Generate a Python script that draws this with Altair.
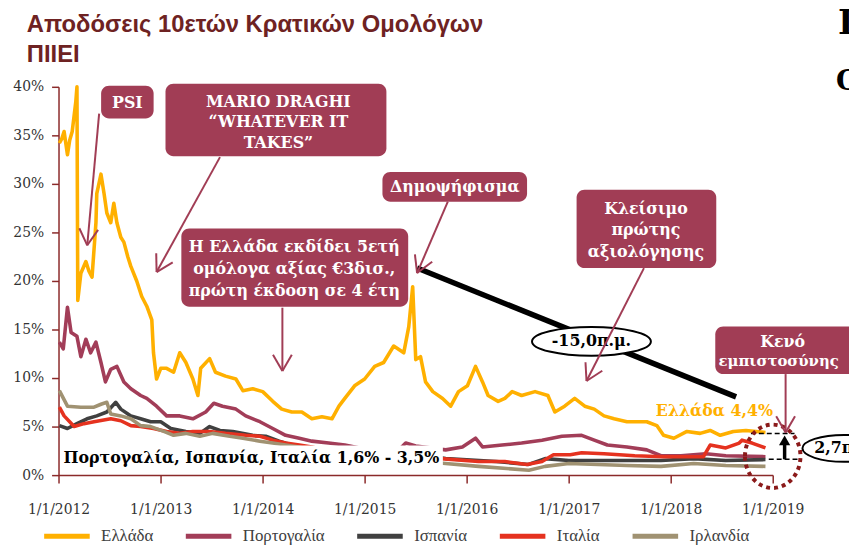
import math
import altair as alt
import pandas as pd

# ------------------------------------------------------------------ data
countries = ["Ελλάδα", "Πορτογαλία", "Ισπανία", "Ιταλία", "Ιρλανδία"]
colors = ["#FFB000", "#A23D58", "#404040", "#E5321F", "#A09272"]

greece_dates = ["2012-01-04", "2012-01-12", "2012-01-21", "2012-02-02", "2012-02-10", "2012-02-19", "2012-03-03",
                "2012-03-07", "2012-03-10", "2012-03-21", "2012-04-08", "2012-04-19", "2012-04-30", "2012-05-14",
                "2012-05-17", "2012-06-01", "2012-06-12", "2012-06-22", "2012-07-06", "2012-07-17", "2012-07-28",
                "2012-08-11", "2012-08-22", "2012-09-05", "2012-09-16", "2012-10-07", "2012-10-25", "2012-11-12",
                "2012-11-30", "2012-12-06", "2012-12-17", "2013-01-01", "2013-01-22", "2013-02-16", "2013-03-10",
                "2013-04-01", "2013-04-26", "2013-05-14", "2013-05-24", "2013-06-25", "2013-07-16", "2013-08-21",
                "2013-09-27", "2013-10-22", "2013-11-26", "2014-01-01", "2014-02-06", "2014-03-10", "2014-04-15",
                "2014-05-21", "2014-06-26", "2014-08-01", "2014-09-06", "2014-10-01", "2014-10-22", "2014-11-26",
                "2015-01-01", "2015-02-06", "2015-03-10", "2015-04-15", "2015-05-21", "2015-06-08", "2015-06-22",
                "2015-07-03", "2015-07-20", "2015-08-07", "2015-09-02", "2015-10-07", "2015-11-05", "2015-12-03",
                "2016-01-04", "2016-02-02", "2016-02-27", "2016-03-18", "2016-04-23", "2016-05-17", "2016-06-12",
                "2016-07-16", "2016-09-02", "2016-10-18", "2016-11-12", "2016-12-17", "2017-01-22", "2017-02-27",
                "2017-04-02", "2017-05-07", "2017-06-12", "2017-07-28", "2017-10-07", "2017-11-12", "2017-12-06",
                "2018-01-12", "2018-02-28", "2018-04-16", "2018-05-22", "2018-06-27", "2018-08-13", "2018-09-27",
                "2018-12-06"]
greece_vals = [34.2, 34.6, 35.4, 33.0, 34.5, 35.4, 38.5,
               40.0, 18.0, 20.8, 22.0, 21.0, 20.4, 26.0,
               29.0, 31.0, 29.0, 27.0, 26.0, 28.0, 26.0,
               24.5, 24.0, 22.5, 21.5, 20.0, 18.4, 17.4,
               16.0, 12.6, 9.9, 11.0, 11.0, 10.6, 12.6,
               11.6, 9.9, 8.2, 11.0, 12.0, 10.6, 10.2,
               9.9, 8.7, 8.9, 8.6, 7.6, 6.8, 6.5,
               6.5, 5.8, 6.0, 5.8, 7.1, 7.9, 9.2,
               9.9, 11.2, 11.6, 13.3, 12.6, 15.3, 19.4,
               11.9, 12.2, 9.6, 8.6, 7.9, 7.1, 8.6,
               9.2, 11.2, 9.6, 8.2, 7.6, 7.9, 8.6,
               8.2, 8.6, 8.2, 6.5, 7.1, 7.9, 7.1,
               6.8, 6.1, 5.8, 5.5, 5.5, 5.1, 4.1,
               3.8, 4.5, 4.3, 4.6, 4.1, 4.5, 4.6,
               4.4]

portugal_dates = ["2012-01-04", "2012-01-18", "2012-02-02", "2012-02-15", "2012-03-07", "2012-03-21", "2012-04-08",
                  "2012-04-25", "2012-05-14", "2012-06-01", "2012-06-17", "2012-07-06", "2012-07-28", "2012-08-22",
                  "2012-09-16", "2012-10-21", "2012-11-12", "2012-12-17", "2013-01-22", "2013-03-10", "2013-04-26",
                  "2013-06-11", "2013-07-10", "2013-08-10", "2013-09-27", "2013-11-01", "2013-12-22", "2014-02-06",
                  "2014-03-24", "2014-05-12", "2014-06-26", "2014-08-25", "2014-10-22", "2015-01-01", "2015-02-26",
                  "2015-04-20", "2015-05-28", "2015-07-03", "2015-10-18", "2015-12-17", "2016-02-02", "2016-02-27",
                  "2016-05-07", "2016-07-16", "2016-09-27", "2016-12-07", "2017-02-16", "2017-04-02", "2017-05-19",
                  "2017-07-28", "2017-10-07", "2017-11-27", "2018-02-06", "2018-05-07", "2018-07-17", "2018-12-06"]
portugal_vals = [13.7, 13.0, 17.3, 14.7, 14.3, 12.2, 14.0,
                 12.6, 13.7, 11.6, 9.6, 10.9, 11.2, 9.6,
                 8.9, 8.2, 7.9, 7.1, 6.1, 6.1, 5.8,
                 6.5, 7.4, 7.1, 6.8, 6.1, 5.5, 4.8,
                 4.1, 3.8, 3.5, 3.3, 3.1, 2.7, 2.0,
                 2.2, 3.3, 3.0, 2.6, 2.9, 3.8, 2.9,
                 3.1, 3.3, 3.6, 4.0, 4.1, 3.6, 3.1,
                 2.9, 2.6, 2.0, 2.0, 2.2, 2.0, 1.9]

spain_dates = ["2012-01-04", "2012-02-02", "2012-03-07", "2012-04-12", "2012-05-17", "2012-06-22", "2012-07-24",
               "2012-08-11", "2012-09-16", "2012-10-21", "2012-11-26", "2013-01-01", "2013-02-06", "2013-04-01",
               "2013-05-21", "2013-06-25", "2013-08-01", "2013-09-16", "2013-11-26", "2014-01-12", "2014-03-01",
               "2014-04-15", "2014-06-01", "2014-08-20", "2014-11-18", "2015-02-15", "2015-05-12", "2015-07-20",
               "2015-10-18", "2016-04-16", "2016-08-10", "2016-10-08", "2017-01-01", "2017-07-28", "2017-11-27",
               "2018-03-24", "2018-07-17", "2018-12-06"]
spain_vals = [5.1, 4.8, 5.3, 5.8, 6.1, 6.5, 7.5,
              6.8, 6.1, 5.8, 5.5, 5.5, 4.8, 4.5,
              4.3, 5.0, 4.6, 4.5, 4.1, 4.0, 3.5,
              3.1, 2.9, 2.4, 2.0, 1.6, 1.9, 2.1,
              1.7, 1.4, 1.1, 1.7, 1.5, 1.5, 1.5,
              1.7, 1.5, 1.6]

italy_dates = ["2012-01-04", "2012-01-21", "2012-02-26", "2012-04-01", "2012-05-07", "2012-07-06", "2012-08-11",
               "2012-09-16", "2012-10-21", "2012-12-06", "2013-01-22", "2013-03-10", "2013-04-26", "2013-06-25",
               "2013-08-21", "2013-11-01", "2013-12-22", "2014-02-06", "2014-03-24", "2014-05-12", "2014-06-26",
               "2014-09-06", "2014-12-03", "2015-02-26", "2015-05-28", "2015-08-07", "2015-10-01", "2016-02-13",
               "2016-05-17", "2016-08-04", "2016-09-27", "2016-11-07", "2017-01-06", "2017-02-16", "2017-05-07",
               "2017-08-25", "2017-12-06", "2018-03-24", "2018-04-28", "2018-05-22", "2018-07-17", "2018-09-03",
               "2018-09-13", "2018-10-19", "2018-12-06"]
italy_vals = [7.0, 6.1, 5.0, 5.3, 5.5, 5.8, 5.6,
              5.1, 5.0, 4.8, 4.5, 4.3, 4.5, 4.5,
              4.3, 4.1, 4.0, 3.6, 3.3, 3.1, 2.9,
              2.4, 2.0, 1.4, 1.8, 1.9, 1.7, 1.4,
              1.4, 1.1, 1.4, 2.1, 2.1, 2.3, 2.2,
              2.0, 1.9, 1.9, 1.9, 3.1, 2.8, 3.3,
              3.6, 3.3, 2.8]

ireland_dates = ["2012-01-04", "2012-02-02", "2012-03-21", "2012-05-07", "2012-06-01", "2012-06-22", "2012-07-06",
                 "2012-08-11", "2012-09-16", "2012-10-21", "2012-11-26", "2013-01-12", "2013-02-16", "2013-04-01",
                 "2013-05-21", "2013-07-06", "2013-09-05", "2013-10-22", "2013-12-22", "2014-02-06", "2014-03-24",
                 "2014-05-12", "2014-07-15", "2014-10-15", "2015-01-08", "2015-04-06", "2015-07-03", "2015-10-18",
                 "2016-02-13", "2016-08-11", "2016-10-08", "2017-01-01", "2017-07-28", "2017-11-27", "2018-03-24",
                 "2018-07-17", "2018-12-06"]
ireland_vals = [8.7, 7.1, 7.0, 7.0, 7.3, 7.5, 6.3,
                6.1, 5.8, 5.1, 5.0, 4.5, 4.1, 4.3,
                4.0, 4.3, 4.0, 3.8, 3.5, 3.3, 3.1,
                2.9, 2.4, 1.8, 1.3, 1.0, 1.5, 1.2,
                0.9, 0.5, 0.9, 1.2, 1.0, 0.9, 1.2,
                1.0, 0.9]

y_ticks = [0, 5, 10, 15, 20, 25, 30, 35, 40]
x_tick_years = [2012, 2013, 2014, 2015, 2016, 2017, 2018, 2019]

title_lines = ["Αποδόσεις 10ετών Κρατικών Ομολόγων", "ΠΙΙΕΙ"]

# ------------------------------------------------------------------ table
frames = []
for name, d, v in zip(countries,
                      [greece_dates, portugal_dates, spain_dates, italy_dates, ireland_dates],
                      [greece_vals, portugal_vals, spain_vals, italy_vals, ireland_vals]):
    frames.append(pd.DataFrame({"date": pd.to_datetime(d), "value": v, "country": name}))
df = pd.concat(frames, ignore_index=True)

# ------------------------------------------------------------------ styles
SERIF = "DejaVu Serif"
LEG_FONT = "Liberation Serif"
TITLE_FONT = "Liberation Sans Narrow, Liberation Sans"
BOX = "#A13D55"
AXIS = "#8B2A2A"
OX, OY = 59, 85          # page position of the plot origin
W, H = 721, 392

dummy = pd.DataFrame({"k": [0]})

lines = alt.Chart(df).mark_line(strokeWidth=3.6, strokeJoin="round").encode(
    x=alt.X("date:T",
            scale=alt.Scale(domain=[alt.DateTime(year=2012, month=1, date=1),
                                    alt.DateTime(year=2019, month=1, date=1)]),
            axis=alt.Axis(values=[alt.DateTime(year=y, month=1, date=1) for y in x_tick_years],
                          format="%-m/%-d/%Y", title=None, grid=False,
                          domainColor=AXIS, domainWidth=1.5, tickColor=AXIS, tickWidth=1.5, tickSize=8,
                          labelFont=SERIF, labelFontSize=14, labelColor="#333333", labelPadding=20,
                          labelFlush=False, labelOverlap=False, labelBound=False)),
    y=alt.Y("value:Q",
            scale=alt.Scale(domain=[0, 40]),
            axis=alt.Axis(values=y_ticks, labelExpr="datum.value + '%'", title=None, grid=False,
                          domainColor=AXIS, domainWidth=1.5, tickColor=AXIS, tickWidth=1.5, tickSize=7,
                          labelFont=SERIF, labelFontSize=14, labelColor="#333333", labelPadding=8)),
    color=alt.Color("country:N",
                    scale=alt.Scale(domain=countries, range=colors),
                    legend=alt.Legend(orient="none", legendX=-17, legendY=428, direction="horizontal",
                                      title=None, symbolType="stroke", symbolStrokeWidth=5,
                                      symbolSize=2116, labelFont=LEG_FONT, labelFontSize=17,
                                      labelColor="#404040", columnPadding=22, labelOffset=9)),
)


def rect(x1, y1, x2, y2, color=BOX, radius=8):
    return alt.Chart(dummy).mark_rect(cornerRadius=radius, color=color).encode(
        x=alt.value(x1 - OX), x2=alt.value(x2 - OX), y=alt.value(y1 - OY), y2=alt.value(y2 - OY))


def seg(x1, y1, x2, y2, color=BOX, width=2.0, dash=None):
    kw = dict(color=color, strokeWidth=width)
    if dash:
        kw["strokeDash"] = dash
    return alt.Chart(dummy).mark_rule(**kw).encode(
        x=alt.value(x1 - OX), y=alt.value(y1 - OY), x2=alt.value(x2 - OX), y2=alt.value(y2 - OY))


def arrow(x1, y1, x2, y2, color=BOX, width=2.0, L=19, ang=30):
    out = [seg(x1, y1, x2, y2, color, width)]
    dx, dy = x1 - x2, y1 - y2
    n = math.hypot(dx, dy)
    ux, uy = dx / n, dy / n
    for s in (1, -1):
        a = math.radians(ang * s)
        rx = ux * math.cos(a) - uy * math.sin(a)
        ry = ux * math.sin(a) + uy * math.cos(a)
        out.append(seg(x2, y2, x2 + rx * L, y2 + ry * L, color, width))
    return out


def text(t, x, y, size=16, color="white", align="center", weight="bold", font=SERIF, baseline="middle"):
    return alt.Chart(dummy).mark_text(fontSize=size, color=color, align=align, fontWeight=weight,
                                      font=font, baseline=baseline).encode(
        x=alt.value(x - OX), y=alt.value(y - OY), text=alt.value(t))


def ellipse(cx, cy, rx, ry, fill=None, stroke="black", width=2.0, dash=None):
    m = max(rx, ry)
    ax, ay = rx / m, ry / m
    path = f"M{-ax},0A{ax},{ay},0,1,1,{ax},0A{ax},{ay},0,1,1,{-ax},0Z"
    kw = dict(shape=path, size=(2 * m) ** 2, stroke=stroke, strokeWidth=width, opacity=1)
    if fill:
        kw["filled"] = True
        kw["fill"] = fill
    else:
        kw["filled"] = False
    if dash:
        kw["strokeDash"] = dash
    return alt.Chart(dummy).mark_point(**kw).encode(x=alt.value(cx - OX), y=alt.value(cy - OY))


ann = []
# title
ann.append(text(title_lines[0], 27, 30, size=24, color="#6E2222", align="left", font=TITLE_FONT,
                baseline="alphabetic"))
ann.append(text(title_lines[1], 27, 60, size=24, color="#6E2222", align="left", font=TITLE_FONT,
                baseline="alphabetic"))
# cut-off slide text at the right edge
ann.append(text("Π", 846, 32, size=34, color="black", align="left", baseline="alphabetic"))
ann.append(text("Ο", 844, 88, size=28, color="black", align="left", baseline="alphabetic"))

# white label box with the peripheral range
ann.append(rect(61, 447, 447, 473, color="white", radius=0))
ann.append(text("Πορτογαλία, Ισπανία, Ιταλία 1,6% - 3,5%", 64, 460, size=16, color="black", align="left"))

# PSI
ann.append(rect(102, 84, 155, 117))
ann.append(text("PSI", 128.5, 101, size=16))
ann += arrow(100, 112, 88, 245)

# Draghi
ann.append(rect(167, 82, 390, 155))
ann.append(text("MARIO DRAGHI", 281, 100, size=16))
ann.append(text("“WHATEVER IT", 281, 121, size=16))
ann.append(text("TAKES”", 281, 142, size=16))
ann += arrow(222, 156, 158, 272)

# 5-year bond issue
ann.append(rect(183, 228, 412, 307))
ann.append(text("Η Ελλάδα εκδίδει 5ετή", 297, 247, size=16))
ann.append(text("ομόλογα αξίας €3δισ.,", 297, 269, size=16))
ann.append(text("πρώτη έκδοση σε 4 έτη", 297, 291, size=16))
ann += arrow(285, 308, 285, 372)

# referendum
ann.append(rect(386, 171, 532, 201))
ann.append(text("Δημοψήφισμα", 459, 186, size=16))

# thick black trend line and its label
ann.append(seg(421, 268, 743, 398, color="black", width=5.5))
ann += arrow(452, 201, 421, 273)
ann.append(ellipse(597, 342, 60, 14.5, fill="white", stroke="black", width=2))
ann.append(text("-15,0π.μ.", 597, 342, size=16, color="black"))

# first review
ann.append(rect(582, 189, 723, 268))
ann.append(text("Κλείσιμο", 652, 208, size=16))
ann.append(text("πρώτης", 652, 230, size=16))
ann.append(text("αξιολόγησης", 652, 252, size=16))
ann += arrow(650, 268, 592, 382)

# Greece label
ann.append(text("Ελλάδα 4,4%", 662, 412, size=16, color="#FFB000", align="left"))

# confidence gap
ann.append(seg(758, 435, 802, 435, color="black", width=1.5, dash=[5, 3]))
ann.append(seg(776, 461, 806, 461, color="black", width=1.5, dash=[5, 3]))
ann.append(seg(792, 461, 792, 444, color="black", width=3.5))
ann.append(alt.Chart(dummy).mark_point(shape="triangle-up", size=130, filled=True, color="black", opacity=1)
           .encode(x=alt.value(792 - OX), y=alt.value(442 - OY)))
ann.append(ellipse(780, 458, 28, 32, stroke="#8B1A1A", width=4, dash=[4, 4]))
ann.append(rect(722, 327, 875, 375))
ann.append(text("Κενό", 790, 343, size=16))
ann.append(text("εμπιστοσύνης", 786, 362, size=15))
ann += arrow(793, 375, 793, 434)
ann.append(ellipse(852, 450, 42, 13.5, fill="white", stroke="black", width=2))
ann.append(text("2,7π.μ.", 822, 450, size=16, color="black", align="left"))

chart = alt.layer(lines, *ann).properties(
    width=W, height=H,
    autosize=alt.AutoSizeParams(type="none"),
    padding={"left": 51, "top": 77, "right": 77, "bottom": 69},
).configure_view(stroke=None)

chart.save("out.html", embed_options={"renderer": "svg", "actions": False})
